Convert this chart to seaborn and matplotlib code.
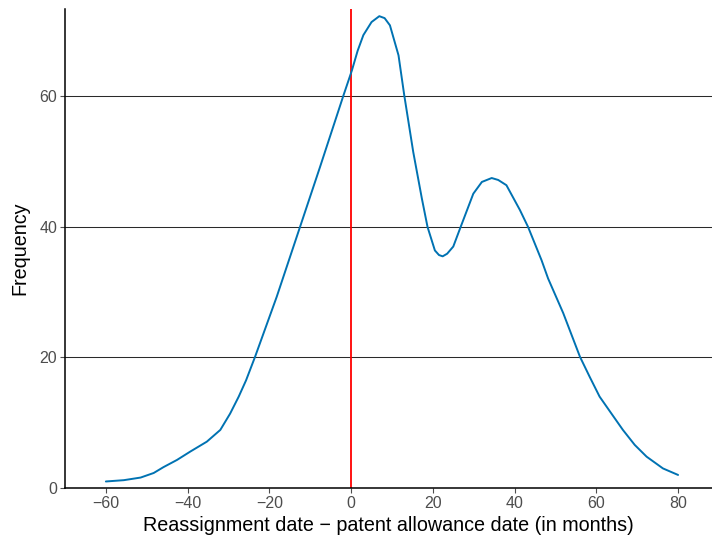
import matplotlib
matplotlib.use("Agg")
import matplotlib.pyplot as plt
import seaborn as sns
import pandas as pd

months = [-60, -55.6, -51.5, -48.3, -45.9, -42.6, -39.3, -35.3, -32, -29.6, -27.5, -25.7, -23.5, -18.2, -12.5, -7.6,
          -1.9, 0.2, 1.6, 3.0, 5.0, 6.9, 8.2, 9.5, 11.6, 13.0, 15.2, 17.3, 18.7, 20.5, 21.5, 22.4, 23.5,
          25.0, 26.8, 29.9, 32.0, 34.4, 36.0, 38.0, 41.3, 43.3, 46.6, 48.2, 51.9, 56.0, 58.4, 60.8, 63.7, 66.5,
          69.4, 72.3, 76.3, 80.0]
frequency = [1.0, 1.2, 1.6, 2.3, 3.2, 4.3, 5.6, 7.1, 8.9, 11.4, 14.0, 16.5, 20.1, 29.3, 40.0, 49.2,
             60.1, 64.0, 67.0, 69.4, 71.4, 72.3, 72.0, 70.9, 66.3, 60.2, 51.5, 44.4, 40.0, 36.4, 35.7, 35.5, 35.9,
             37.0, 40.0, 45.1, 46.9, 47.5, 47.2, 46.4, 42.6, 40.0, 34.9, 32.1, 26.8, 20.1, 17.0, 14.0, 11.4, 8.9,
             6.6, 4.8, 3.0, 2.0]
x_ticks = [-60, -40, -20, 0, 20, 40, 60, 80]
y_ticks = [0, 20, 40, 60]

df = pd.DataFrame({"months": months, "frequency": frequency})

sns.set_theme(style="white")
plt.rcParams['font.family'] = ['Liberation Sans', 'DejaVu Sans']

fig = plt.figure(figsize=(7.12, 5.4), dpi=100)
ax = fig.add_axes([65/712, 52/540, 1 - 65/712, (488 - 9)/540])

for yv in y_ticks[1:]:
    ax.axhline(yv, color="#2a2a2a", lw=0.75, zorder=1)
ax.axvline(0, color="#ff0000", lw=1.3, zorder=2)

sns.lineplot(data=df, x="months", y="frequency", ax=ax, color="#0072B2", lw=1.4, zorder=3)

ax.set_xlim(-70, 88.3)
ax.set_ylim(0, 73.4)
ax.set_xticks(x_ticks)
ax.set_xticklabels([str(t).replace("-", "\u2212") for t in x_ticks])
ax.set_yticks(y_ticks)
ax.set_xlabel("Reassignment date \u2212 patent allowance date (in months)", fontsize=14.2, color="black", labelpad=4)
ax.set_ylabel("Frequency", fontsize=14.2, color="black", labelpad=7)
ax.tick_params(axis="both", colors="#4d4d4d", labelsize=11.5, length=3.5, width=0.8, direction="out",
               bottom=True, left=True, pad=2)
for s in ["top", "right"]:
    ax.spines[s].set_visible(False)
for s in ["left", "bottom"]:
    ax.spines[s].set_color("black")
    ax.spines[s].set_linewidth(1.1)

fig.savefig("out.png", dpi=100)
